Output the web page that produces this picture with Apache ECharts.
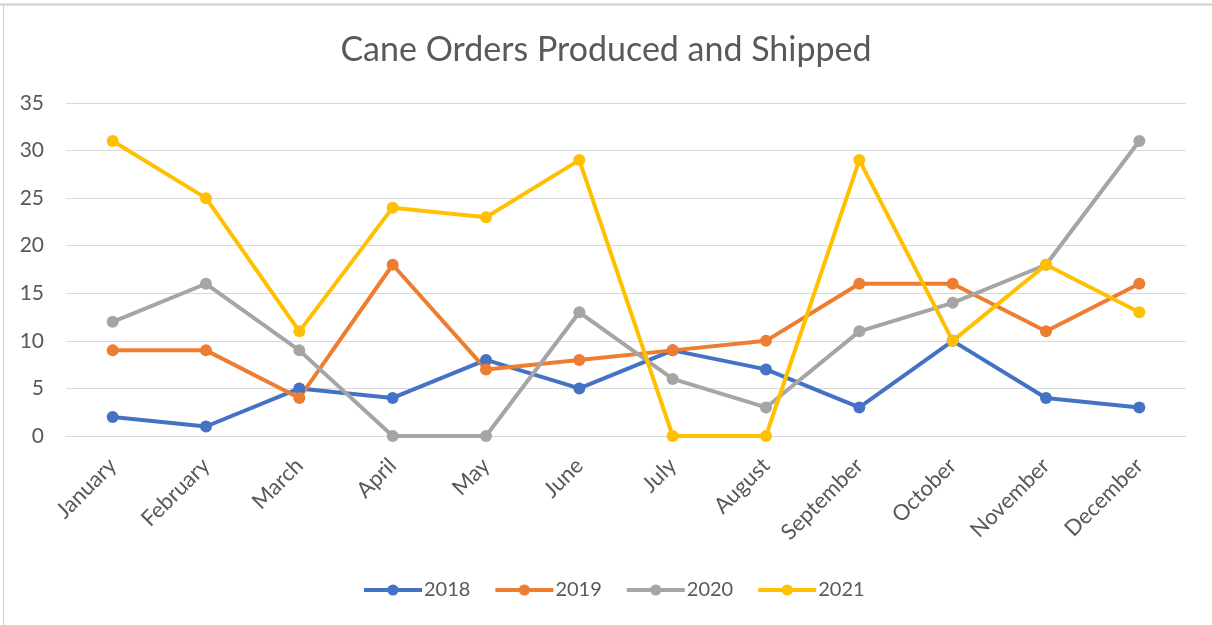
<!DOCTYPE html>
<html><head><meta charset="utf-8">
<script src="https://cdn.jsdelivr.net/npm/echarts@6/dist/echarts.min.js"></script>
<style>html,body{margin:0;padding:0;background:#fff}#c{width:1212px;height:625px}</style>
</head><body><div id="c"></div>
<script>
const months = ['January','February','March','April','May','June','July','August','September','October','November','December'];
const s2018 = [2,1,5,4,8,5,9,7,3,10,4,3];
const s2019 = [9,9,4,18,7,8,9,10,16,16,11,16];
const s2020 = [12,16,9,0,0,13,6,3,11,14,18,31];
const s2021 = [31,25,11,24,23,29,0,0,29,10,18,13];
const yTicks = [0,5,10,15,20,25,30,35];

const names = ['2018','2019','2020','2021'];
const data = [s2018,s2019,s2020,s2021];
const colors = ['#4472C4','#ED7D31','#A5A5A5','#FFC000'];
const font = "Lato, 'Open Sans', sans-serif";

const chart = echarts.init(document.getElementById('c'));
chart.setOption({
  animation:false,
  color: colors,
  title:{text:'Cane Orders Produced and Shipped',left:'center',top:28,
    textStyle:{fontFamily:font,fontSize:34,fontWeight:'normal',color:'#595959'}},
  legend:{top:575,left:357,itemWidth:58,itemHeight:14,itemGap:23,
    lineStyle:{width:4},
    textStyle:{fontFamily:font,fontSize:20,color:'#595959',padding:[0,0,0,-3]},
    data:names},
  grid:{left:66,right:26,top:103,bottom:189,containLabel:false},
  xAxis:{type:'category',data:months,boundaryGap:true,
    axisLine:{show:true,lineStyle:{color:'#D9D9D9'}},axisTick:{show:false},
    axisLabel:{rotate:45,fontFamily:font,fontSize:22,color:'#595959',margin:26}},
  yAxis:{type:'value',min:yTicks[0],max:yTicks[yTicks.length-1],interval:5,
    axisLine:{show:false},axisTick:{show:false},
    splitLine:{lineStyle:{color:'#D9D9D9',width:1}},
    axisLabel:{fontFamily:font,fontSize:21,color:'#595959',margin:22}},
  series: names.map((n,i)=>({name:n,type:'line',data:data[i],
    symbol:'circle',symbolSize:12,lineStyle:{width:4,color:colors[i]},
    itemStyle:{color:colors[i]}})),
  graphic:[
    {type:'line',shape:{x1:0,y1:4.5,x2:1212,y2:4.5},style:{stroke:'#D0D0D0',lineWidth:2}},
    {type:'line',shape:{x1:3.5,y1:5,x2:3.5,y2:625},style:{stroke:'#D0D0D0',lineWidth:1}}
  ]
});
</script></body></html>
